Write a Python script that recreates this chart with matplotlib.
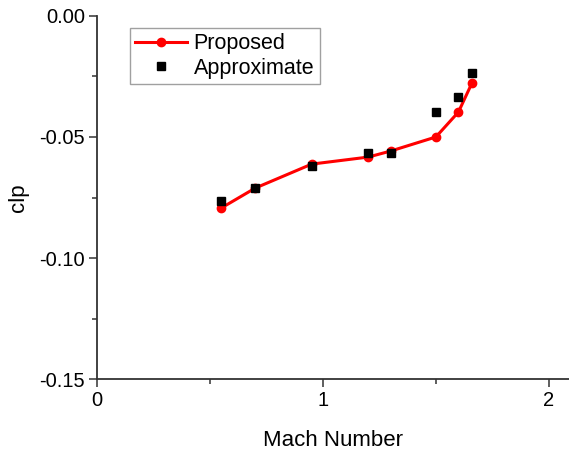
import matplotlib
matplotlib.use("Agg")
import matplotlib.pyplot as plt
from matplotlib.ticker import MultipleLocator

plt.rcParams['font.family'] = ['Liberation Sans', 'DejaVu Sans']

# data
mach = [0.55, 0.70, 0.95, 1.20, 1.30, 1.50, 1.60, 1.66]
clp_proposed = [-0.0793, -0.0711, -0.0612, -0.0583, -0.0558, -0.0500, -0.0397, -0.0277]
clp_approx = [-0.0766, -0.0711, -0.0619, -0.0566, -0.0567, -0.0395, -0.0333, -0.0234]

fig = plt.figure(figsize=(5.69, 4.51), dpi=100)
ax = fig.add_axes([97.3 / 569, 72 / 451, 471.7 / 569, 363 / 451])

ax.plot(mach, clp_proposed, '-o', color='red', lw=2.2, ms=6, label='Proposed')
ax.plot(mach, clp_approx, 's', color='black', ms=5.5, ls='none', label='Approximate')

ax.set_xlim(0, 471.7 / 225.7)
ax.set_ylim(-0.15, 0.0)
ax.xaxis.set_major_locator(MultipleLocator(1))
ax.xaxis.set_minor_locator(MultipleLocator(0.5))
ax.yaxis.set_major_locator(MultipleLocator(0.05))
ax.yaxis.set_minor_locator(MultipleLocator(0.025))
ax.yaxis.set_major_formatter(matplotlib.ticker.FormatStrFormatter('%.2f'))

for side in ['top', 'right']:
    ax.spines[side].set_visible(False)
for side in ['left', 'bottom']:
    ax.spines[side].set_linewidth(1.3)
    ax.spines[side].set_color('#333333')

ax.tick_params(which='major', direction='out', length=6, width=1.1, color='#333333',
               labelsize=14.5, pad=3)
ax.tick_params(which='minor', direction='out', length=3.5, width=1.1, color='#333333')

ax.set_xlabel('Mach Number', fontsize=16, labelpad=14)
ax.set_ylabel('clp', fontsize=16, labelpad=7)

leg = ax.legend(loc='upper left', bbox_to_anchor=((130 - 97.3) / 471.7, 1 - (28 - 16) / 363),
                fontsize=15.5, frameon=True, fancybox=False, borderpad=0.25,
                handlelength=2.4, handletextpad=0.3, labelspacing=0.15, borderaxespad=0)
leg.get_frame().set_edgecolor('#888888')
leg.get_frame().set_linewidth(1.0)

fig.savefig('out.png', dpi=100)
